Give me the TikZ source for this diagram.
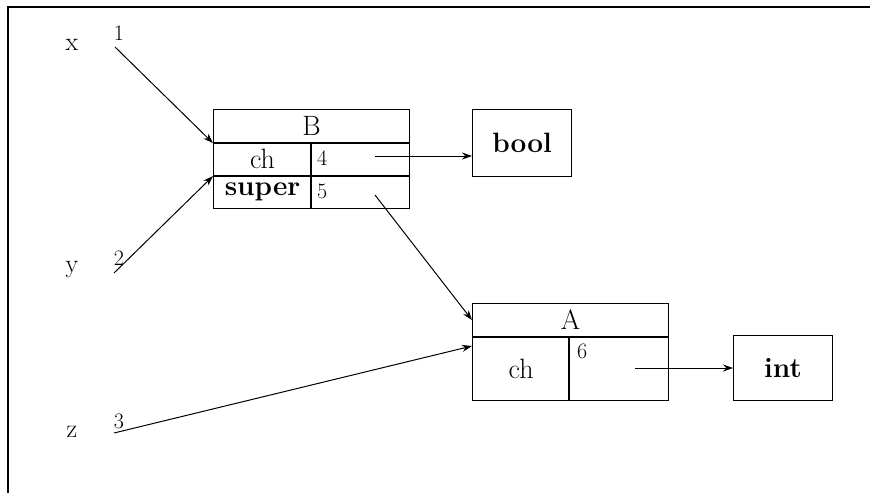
\documentclass[tikz,border=0pt]{standalone}
\usetikzlibrary{arrows.meta,calc}
\begin{document}
\begin{tikzpicture}[x=1pt,y=-1pt,
  cell/.style={draw,line width=1.1pt,inner sep=0pt,anchor=north west,
               font=\fontsize{28}{30}\selectfont},
  boldcell/.style={cell,font=\fontsize{28}{30}\selectfont\bfseries},
  num/.style={font=\fontsize{22}{24}\selectfont,inner sep=0pt},
  var/.style={font=\fontsize{26}{28}\selectfont,inner sep=0pt},
  ptr/.style={line width=1pt,-{Stealth[length=10pt,width=7pt]}},
  sep/.style={line width=2pt}]
\useasboundingbox (0,0) rectangle (870,493);

% page frame (left and top edges)
\draw[line width=1.2pt] (8,493) -- (8,7) -- (870,7);

% record B
\node[cell,minimum width=196pt,minimum height=33pt] (Bh) at (213,109) {B};
\node[cell,minimum width=98pt,minimum height=33pt] (Bchn) at (213,142) {ch};
\node[cell,minimum width=98pt,minimum height=33pt] (Bchv) at (311,142) {};
\node[boldcell,minimum width=98pt,minimum height=33pt] (Bsn) at (213,175) {super};
\node[cell,minimum width=98pt,minimum height=33pt] (Bsv) at (311,175) {};
\draw[sep] (Bh.south west) -- (Bh.south east);
\draw[sep] (Bchn.south west) -- (Bchv.south east);
\draw[line width=1.5pt] (Bchv.north west) -- (Bsv.south west);
\node[num,anchor=north west] (n4) at ($(Bchv.north west)+(6,9)$) {4};
\node[num,anchor=north west] (n5) at ($(Bsv.north west)+(6,9)$) {5};

% type box bool
\node[boldcell,minimum width=99pt,minimum height=67pt] (bool) at (472,109) {bool};

% record A
\node[cell,minimum width=196pt,minimum height=33pt] (Ah) at (472,303) {A};
\node[cell,minimum width=97pt,minimum height=64pt] (Achn) at (472,336) {ch};
\node[cell,minimum width=99pt,minimum height=64pt] (Achv) at (569,336) {};
\draw[sep] (Ah.south west) -- (Ah.south east);
\draw[line width=1.5pt] (Achv.north west) -- (Achv.south west);
\node[num,anchor=north west] (n6) at ($(Achv.north west)+(8,8)$) {6};

% type box int
\node[boldcell,minimum width=99pt,minimum height=65pt] (int) at (733,335) {int};

% variables
\node[var] (vx) at (72,45) {x};
\node[var] (vy) at (72,270) {y};
\node[var] (vz) at (72,432) {z};
\node[num] (n1) at (119,33) {1};
\node[num] (n2) at (119,258) {2};
\node[num] (n3) at (119,421) {3};

% pointers
\coordinate (s1) at (115,47);
\coordinate (s2) at (114,273);
\coordinate (s3) at (114,433);
\coordinate (p4) at (375,156);
\coordinate (p5) at (375,195);
\coordinate (p6) at (635,368);
\draw[ptr] (s1) -- (Bh.south west);
\draw[ptr] (s2) -- (Bchn.south west);
\draw[ptr] (s3) -- ($(Achn.north west)+(0,10)$);
\draw[ptr] (p4) -- (p4 -| bool.west);
\draw[ptr] (p5) -- (Ah.west);
\draw[ptr] (p6) -- (p6 -| int.west);
\end{tikzpicture}
\end{document}
